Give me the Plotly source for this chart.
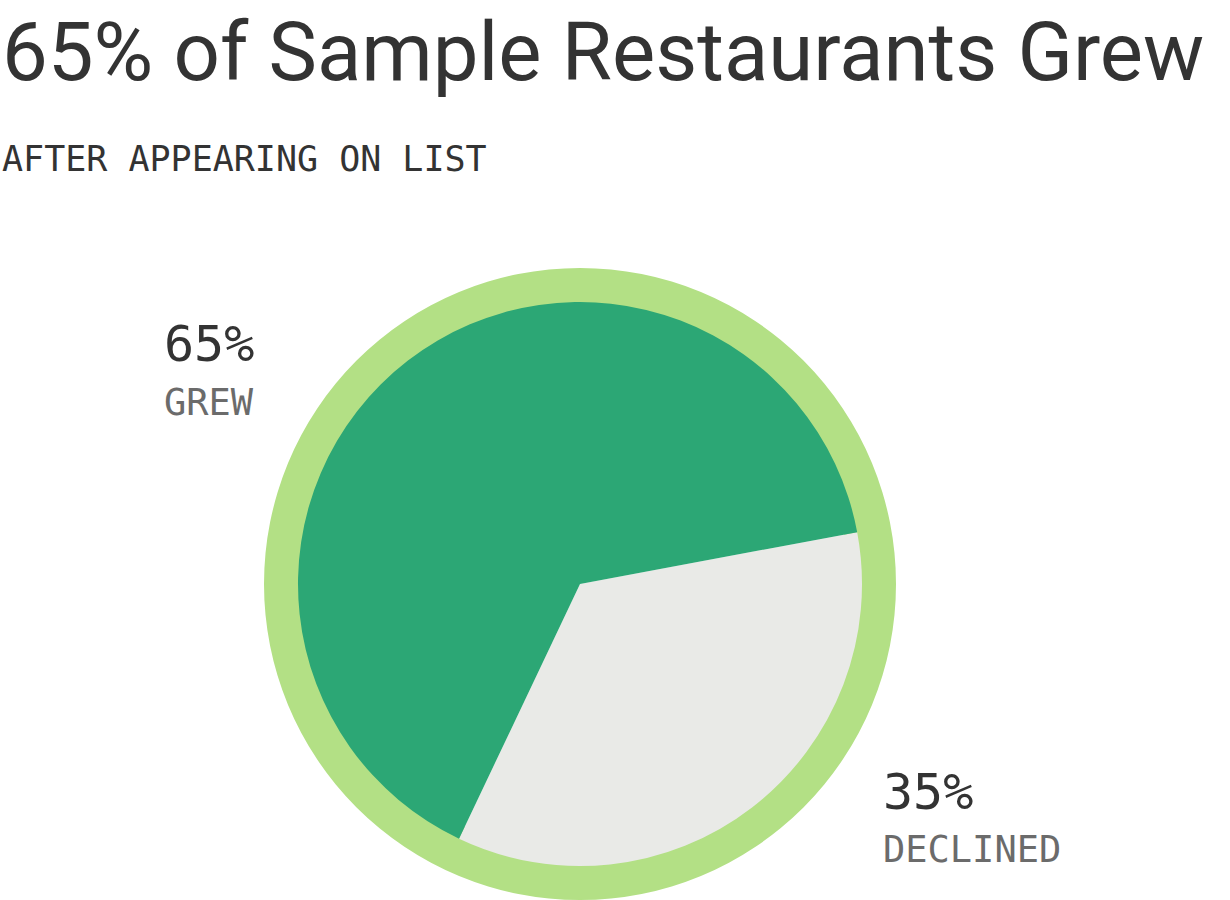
import plotly.graph_objects as go

labels = ["Declined", "Grew"]
values = [35, 65]
colors = ["#e9eae7", "#2ca775"]
ring_color = "#b3e085"

title = "65% of Sample Restaurants Grew"
subtitle = "AFTER APPEARING ON LIST"

W, H = 1230, 900
cx, cy = 580, 584
r_out, r_in = 316, 282

def dom(r):
    return dict(x=[(cx - r) / W, (cx + r) / W], y=[(H - cy - r) / H, (H - cy + r) / H])

fig = go.Figure()
fig.add_trace(go.Pie(values=[1], marker=dict(colors=[ring_color], line=dict(width=0)),
                     hole=0.85, textinfo="none", hoverinfo="skip", sort=False,
                     domain=dom(r_out), showlegend=False))
fig.add_trace(go.Pie(labels=labels, values=values, marker=dict(colors=colors, line=dict(width=0)),
                     textinfo="none", sort=False, direction="clockwise", rotation=79.4,
                     domain=dom(r_in), showlegend=False))

mono = "DejaVu Sans Mono"
def ann(text, x, y, size, color, family, xa="left"):
    fig.add_annotation(text=text, x=x / W, y=1 - y / H, xref="paper", yref="paper",
                       xanchor=xa, yanchor="middle", showarrow=False,
                       font=dict(size=size, color=color, family=family))

ann(title, 0, 52, 81.5, "#333333", "Roboto")
ann(subtitle, 0, 159, 35, "#333333", mono)
ann("65%", 162, 344, 50, "#333333", mono)
ann("GREW", 162, 402, 37, "#6b6b6b", mono)
ann("35%", 881, 792, 50, "#333333", mono)
ann("DECLINED", 881, 849, 37, "#6b6b6b", mono)

fig.update_layout(width=W, height=H, margin=dict(l=0, r=0, t=0, b=0),
                  paper_bgcolor="white", plot_bgcolor="white")
fig.write_html("out.html", post_script="document.body.style.margin='0';",
               config={"displayModeBar": False})
